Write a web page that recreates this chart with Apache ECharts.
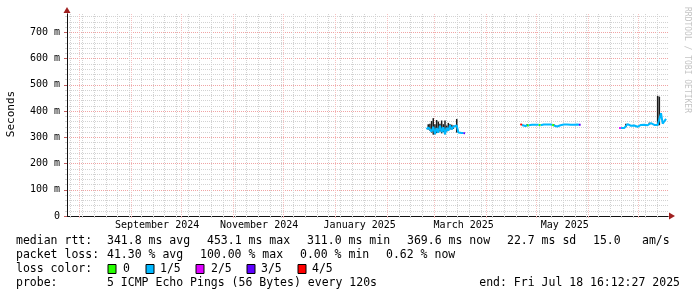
<!DOCTYPE html>
<html><head><meta charset="utf-8">
<script src="https://cdn.jsdelivr.net/npm/echarts@6.0.0/dist/echarts.min.js"></script>
<style>html,body{margin:0;padding:0;background:#fff;}#chart{width:697px;height:297px;}</style>
</head><body><div id="chart"></div>
<script>
// ---------------- data ----------------
const endTime = '2025-07-18T16:12:27';
const startTime = '2024-07-24T18:40:00';
const yTickValues = [0, 100, 200, 300, 400, 500, 600, 700];
const monthStarts = ['2024-08-01','2024-09-01','2024-10-01','2024-11-01','2024-12-01','2025-01-01',
                     '2025-02-01','2025-03-01','2025-04-01','2025-05-01','2025-06-01','2025-07-01'];
const xLabelDates = ['2024-09-16T14:00','2024-11-16T12:00','2025-01-15T14:00','2025-03-18T16:00','2025-05-18T00:00'];
const xLabelTexts = ['September 2024','November 2024','January 2025','March 2025','May 2025'];

// median rtt (ms) and loss level (0..4 of 5 pings) per day
const seg1Dates = ['2025-02-24','2025-02-25','2025-02-26','2025-02-27','2025-02-28','2025-03-01','2025-03-02','2025-03-03',
                   '2025-03-04','2025-03-05','2025-03-06','2025-03-07','2025-03-08','2025-03-09','2025-03-10','2025-03-11',
                   '2025-03-12','2025-03-13','2025-03-14','2025-03-15','2025-03-16','2025-03-17','2025-03-18','2025-03-19'];
const seg1Rtt  = [330,338,345,322,340,312,335,318,344,320,338,312,336,325,346,330,340,335,345,318,315,316,316,315];
const seg1Loss = [1,1,1,1,1,1,1,1,1,1,1,1,1,1,1,1,1,1,1,1,1,1,1,3];

const seg2Dates = ['2025-04-21','2025-04-22','2025-04-23','2025-04-24','2025-04-25','2025-04-26','2025-04-27','2025-04-28',
                   '2025-04-29','2025-04-30','2025-05-01','2025-05-02','2025-05-03','2025-05-04','2025-05-05','2025-05-06',
                   '2025-05-07','2025-05-08','2025-05-09','2025-05-10','2025-05-11','2025-05-12','2025-05-13','2025-05-14',
                   '2025-05-15','2025-05-16','2025-05-17','2025-05-18','2025-05-19','2025-05-20','2025-05-21','2025-05-22',
                   '2025-05-23','2025-05-24','2025-05-25','2025-05-26','2025-05-27'];
const seg2Rtt  = [350,347,344,343,345,346,347,348,347,348,347,348,346,348,349,348,349,348,349,348,345,341,341,341,
                  346,348,349,348,349,348,348,349,348,348,349,348,348];
const seg2Loss = [4,4,1,1,1,0,1,1,1,1,1,1,0,1,1,1,1,1,1,1,0,1,1,1,1,1,1,1,1,1,1,1,1,1,1,1,3];

const seg3Dates = ['2025-06-19','2025-06-20','2025-06-21','2025-06-22','2025-06-23','2025-06-24','2025-06-25','2025-06-26',
                   '2025-06-27','2025-06-28','2025-06-29','2025-06-30','2025-07-01','2025-07-02','2025-07-03','2025-07-04',
                   '2025-07-05','2025-07-06','2025-07-07','2025-07-08','2025-07-09','2025-07-10','2025-07-11','2025-07-12',
                   '2025-07-13','2025-07-14','2025-07-15','2025-07-16','2025-07-17'];
const seg3Rtt  = [335,335,336,335,338,350,346,344,343,345,341,340,342,347,346,348,347,346,352,354,348,347,346,347,
                  347,392,352,354,370];
const seg3Loss = [2,2,1,1,1,1,1,1,1,1,1,1,1,1,1,1,1,1,1,1,1,1,1,1,1,1,1,1,1];

// smoke (spread of the individual pings), ms
const smokeDates = ['2025-02-25','2025-02-26','2025-02-27','2025-02-28','2025-03-01','2025-03-02','2025-03-03','2025-03-04',
                    '2025-03-05','2025-03-06','2025-03-07','2025-03-08','2025-03-09','2025-03-10','2025-03-11','2025-03-12',
                    '2025-03-14','2025-04-25','2025-05-11','2025-06-23','2025-07-07','2025-07-12','2025-07-13'];
const smokeLow  = [330,325,318,310,312,316,318,322,315,320,312,322,325,330,330,332,318,343,345,338,347,345,346];
const smokeHigh = [350,352,362,373,350,366,360,352,364,350,364,345,355,350,348,345,370,350,350,352,356,458,455];

const lossLabels = ['0','1/5','2/5','3/5','4/5'];
const lossColors = ['#26ff00','#00b8ff','#dd00ff','#5e00ff','#ff0000'];

const rttStats  = ['341.8 ms avg','453.1 ms max','311.0 ms min','369.6 ms now','22.7 ms sd','15.0','am/s'];
const lossStats = ['41.30 % avg','100.00 % max','0.00 % min','0.62 % now'];
const probeText = '5 ICMP Echo Pings (56 Bytes) every 120s';
const endText = 'end: Fri Jul 18 16:12:27 2025';

// ---------------- build ----------------
const ms = s => Date.parse(s + (s.length === 10 ? 'T00:00:00Z' : 'Z'));
const noon = s => Date.parse(s + 'T12:00:00Z');
const X_MIN = ms(startTime), X_MAX = ms(endTime);
const DAY = 86400000;

const weekLines = [];
for (let t = ms('2024-07-27'); t < X_MAX; t += 7 * DAY) weekLines.push(t);
const minorY = [];
for (let v = 20; v < 770; v += 20) if (v % 100) minorY.push(v);

const lineData = lossColors.map(() => []);
[[seg1Dates, seg1Rtt, seg1Loss], [seg2Dates, seg2Rtt, seg2Loss], [seg3Dates, seg3Rtt, seg3Loss]].forEach(([d, r, l]) => {
  for (let i = 1; i < d.length; i++) {
    const arr = lineData[l[i]];
    const p0 = [noon(d[i - 1]), r[i - 1]], p1 = [noon(d[i]), r[i]];
    const last = arr[arr.length - 1];
    if (!(last && last[0] === p0[0] && last[1] === p0[1])) {
      if (arr.length) arr.push([p0[0], null]);
      arr.push(p0);
    }
    arr.push(p1);
  }
});
const smokeData = smokeDates.map((d, i) => [noon(d), smokeLow[i], smokeHigh[i]]);

const MONO = '"DejaVu Sans Mono", monospace';
const minorCol = '#d2d2d2', majorCol = '#f0a4a4', majorColV = '#f6c0c0', arrowCol = '#a02020';

const hiddenAxisBits = { axisLabel: { show: false }, axisLine: { show: false } };

const option = {
  backgroundColor: '#fff',
  animation: false,
  grid: { left: 67, right: 29, top: 14, bottom: 81, containLabel: false },
  xAxis: [
    { type: 'value', position: 'bottom', min: X_MIN, max: X_MAX, ...hiddenAxisBits,
      axisTick: { show: true, customValues: weekLines, length: 2, lineStyle: { color: minorCol } },
      splitLine: { show: true, lineStyle: { color: minorCol, type: [1, 1], width: 1 } } },
    { type: 'value', position: 'bottom', min: X_MIN, max: X_MAX, axisLabel: { show: false },
      axisLine: { show: true, symbol: ['none', 'triangle'], symbolSize: [7, 6], symbolOffset: [0, 4], lineStyle: { color: arrowCol } },
      axisTick: { show: true, customValues: monthStarts.map(ms), length: 2, lineStyle: { color: majorColV } },
      splitLine: { show: true, lineStyle: { color: majorColV, type: [1, 1], width: 1 } } },
    { type: 'value', position: 'bottom', min: X_MIN, max: X_MAX,
      axisLine: { show: true, lineStyle: { color: '#111', width: 1 } },
      axisTick: { show: false, customValues: xLabelDates.map(ms) },
      axisLabel: { show: true, customValues: xLabelDates.map(ms), margin: 4, fontFamily: MONO, fontSize: 10, color: '#000',
        formatter: v => { const i = xLabelDates.map(ms).indexOf(v); return i >= 0 ? xLabelTexts[i] : ''; } },
      splitLine: { show: false } }
  ],
  yAxis: [
    { type: 'value', position: 'left', min: 0, max: 770, ...hiddenAxisBits,
      axisTick: { show: true, customValues: minorY, length: 2, lineStyle: { color: minorCol } },
      splitLine: { show: true, lineStyle: { color: minorCol, type: [1, 1], width: 1 } } },
    { type: 'value', position: 'left', min: 0, max: 770,
      axisLine: { show: true, symbol: ['none', 'triangle'], symbolSize: [7, 6], symbolOffset: [0, 4], lineStyle: { color: arrowCol } },
      axisTick: { show: true, customValues: yTickValues, length: 3, lineStyle: { color: '#c06060' } },
      axisLabel: { show: true, customValues: yTickValues, margin: 7, fontFamily: MONO, fontSize: 10, color: '#000',
        formatter: v => v === 0 ? '0' : v + ' m' },
      splitLine: { show: true, lineStyle: { color: majorCol, type: [1, 1], width: 1 } } },
    { type: 'value', position: 'left', min: 0, max: 770, axisLabel: { show: false },
      axisTick: { show: false }, splitLine: { show: false },
      axisLine: { show: true, lineStyle: { color: '#111', width: 1 } } }
  ],
  series: [
    { type: 'custom', xAxisIndex: 2, yAxisIndex: 1, data: smokeData, z: 2, silent: true,
      encode: { x: 0, y: [1, 2] },
      renderItem: (params, api) => {
        const lo = api.coord([api.value(0), api.value(1)]);
        const hi = api.coord([api.value(0), api.value(2)]);
        return { type: 'rect', shape: { x: lo[0] - 0.75, y: hi[1], width: 1.5, height: lo[1] - hi[1] },
                 style: { fill: '#1c1c1c' } };
      } },
    ...[1, 0, 2, 3, 4].map(k => ({
      type: 'line', xAxisIndex: 2, yAxisIndex: 1, data: lineData[k], z: 3 + (k === 1 ? 0 : 1),
      symbol: 'none', showSymbol: false, connectNulls: false, silent: true,
      lineStyle: { color: lossColors[k], width: 2 }
    }))
  ],
  graphic: []
};

// texts
const G = option.graphic;
const LEG = '11.5px ' + MONO;
const txt = (x, y, text, extra) => G.push(Object.assign({ type: 'text', x, y, silent: true,
  style: Object.assign({ text, font: LEG, fill: '#000', verticalAlign: 'middle' }, extra || {}) }));

G.push({ type: 'text', x: 11, y: 114, rotation: Math.PI / 2, silent: true,
  style: { text: 'Seconds', font: '11px ' + MONO, fill: '#000', align: 'center', verticalAlign: 'middle' } });
G.push({ type: 'text', x: 687, y: 60, rotation: -Math.PI / 2, silent: true,
  style: { text: 'RRDTOOL / TOBI OETIKER', font: '8px ' + MONO, fill: '#c4c4c4', align: 'center', verticalAlign: 'middle' } });

const rowY = [241, 255, 269, 283];
txt(16, rowY[0], 'median rtt:');
[107, 207, 307, 407, 507, 593, 642].forEach((x, i) => txt(x, rowY[0], rttStats[i]));
txt(16, rowY[1], 'packet loss:');
[107, 200, 300, 386].forEach((x, i) => txt(x, rowY[1], lossStats[i]));
txt(16, rowY[2], 'loss color:');
[[108, 123], [146, 160], [196, 211], [247, 261], [298, 312]].forEach(([bx, tx], i) => {
  G.push({ type: 'rect', x: bx, y: rowY[2] - 4.5, shape: { width: 8, height: 9 }, silent: true,
    style: { fill: lossColors[i], stroke: '#000', lineWidth: 1 } });
  txt(tx, rowY[2], lossLabels[i]);
});
txt(16, rowY[3], 'probe:');
txt(107, rowY[3], probeText);
txt(680, rowY[3], endText, { align: 'right' });

const chart = echarts.init(document.getElementById('chart'), null, { renderer: 'canvas' });
chart.setOption(option);
</script></body></html>
